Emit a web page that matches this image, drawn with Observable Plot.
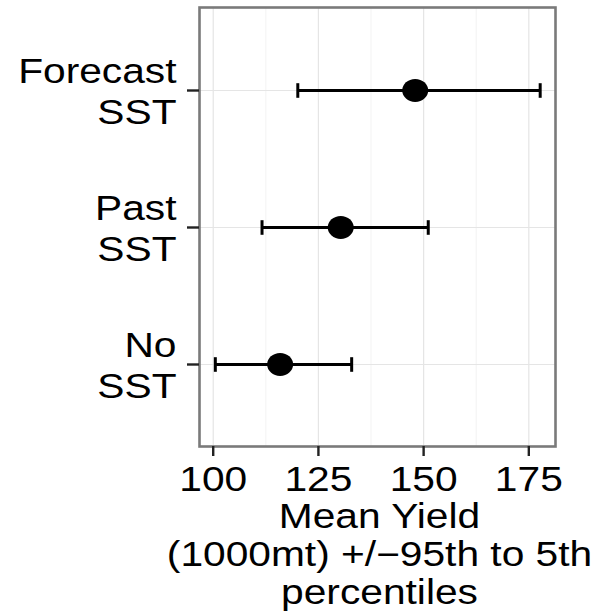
<!DOCTYPE html>
<html>
<head>
<meta charset="utf-8">
<script src="https://cdn.jsdelivr.net/npm/d3@7"></script>
<script src="https://cdn.jsdelivr.net/npm/@observablehq/plot@0.6"></script>
<style>
  html, body { margin: 0; padding: 0; background: white; }
</style>
</head>
<body>
<div id="chart"></div>
<script>
// Data
const models = ["Forecast\nSST", "Past\nSST", "No\nSST"];
const meanYield = [148.0, 130.3, 115.9];
const lower = [120.1, 111.6, 100.5];
const upper = [177.7, 151.1, 132.9];
const xTicks = [100, 125, 150, 175];
const xMinorTicks = [112.5, 137.5, 162.5];
const xTitle = ["Mean Yield", "(1000mt) +/\u221295th to 5th", "percentiles"];

const rows = models.map((m, i) => ({model: m, mean: meanYield[i], lo: lower[i], hi: upper[i]}));

// slightly wide ellipse symbol (the reference is horizontally stretched)
const ellipse = {
  draw(ctx, size) {
    const r = Math.sqrt(size / Math.PI), a = r * 1.14, b = r, k = 0.5522847498;
    ctx.moveTo(a, 0);
    ctx.bezierCurveTo(a, k * b, k * a, b, 0, b);
    ctx.bezierCurveTo(-k * a, b, -a, k * b, -a, 0);
    ctx.bezierCurveTo(-a, -k * b, -k * a, -b, 0, -b);
    ctx.bezierCurveTo(k * a, -b, a, -k * b, a, 0);
    ctx.closePath();
  }
};
// vertical cap symbol for the error-bar ends
const vcap = {
  draw(ctx, size) {
    const h = Math.sqrt(size / Math.PI);
    ctx.moveTo(0, -h);
    ctx.lineTo(0, h);
  }
};

const font = "Liberation Sans, Arial, Helvetica, sans-serif";

const chart = Plot.plot({
  width: 602,
  height: 615,
  marginLeft: 199,
  marginRight: 47,
  marginTop: 7,
  marginBottom: 169,
  style: {fontFamily: font, fontSize: "34px", color: "black", background: "white"},
  x: {domain: [96.74, 181.34], label: null},
  y: {type: "point", domain: models, padding: 0.6, label: null},
  marks: [
    Plot.gridX(xMinorTicks, {stroke: "#f5f5f5", strokeOpacity: 1, strokeWidth: 1.2}),
    Plot.gridX(xTicks, {stroke: "#e5e5e5", strokeOpacity: 1, strokeWidth: 1.2}),
    Plot.gridY(models, {stroke: "#e5e5e5", strokeOpacity: 1, strokeWidth: 1.2}),
    Plot.frame({stroke: "#7a7a7a", strokeWidth: 2.6}),
    Plot.axisX(xTicks, {tickSize: 10, tickPadding: 10, fontSize: 34.5, stroke: "#222", strokeWidth: 2.4, fill: "black", label: null}),
    Plot.axisY(models, {tickSize: 12, tickPadding: 11, fontSize: 34.5, lineHeight: 1.17, stroke: "#222", strokeWidth: 2.4, fill: "black", label: null}),
    Plot.ruleY(rows, {y: "model", x1: "lo", x2: "hi", stroke: "black", strokeWidth: 3}),
    Plot.dot(rows, {x: "lo", y: "model", r: 7.3, symbol: vcap, fill: "none", stroke: "black", strokeWidth: 3}),
    Plot.dot(rows, {x: "hi", y: "model", r: 7.3, symbol: vcap, fill: "none", stroke: "black", strokeWidth: 3}),
    Plot.dot(rows, {x: "mean", y: "model", r: 11.4, symbol: ellipse, fill: "black", stroke: "none"}),
    Plot.text([xTitle.join("\n")], {frameAnchor: "bottom", lineAnchor: "top", dy: 55, dx: 2, fontSize: 34.5, lineHeight: 1.1, fill: "black"})
  ]
});

// the reference text is horizontally stretched; widen glyphs about their anchor
chart.querySelectorAll("text").forEach(t => {
  const tr = t.getAttribute("transform") || "";
  t.setAttribute("transform", (tr + " scale(1.18,1)").trim());
});

document.getElementById("chart").appendChild(chart);
</script>
</body>
</html>
